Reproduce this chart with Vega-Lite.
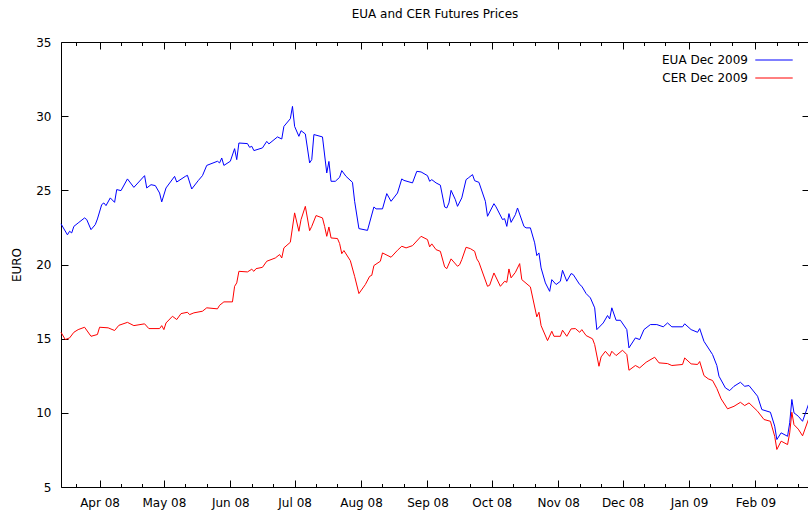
{
  "$schema": "https://vega.github.io/schema/vega-lite/v6.json",
  "width": 748,
  "height": 445,
  "autosize": {"type": "none"},
  "padding": {"left": 61, "top": 42, "right": 0, "bottom": 26},
  "background": "white",
  "config": {
    "font": "DejaVu Sans",
    "view": {"stroke": null},
    "axis": {"domainColor": "black", "tickColor": "black", "labelColor": "black", "titleColor": "black", "labelFontSize": 12, "titleFontSize": 12, "titleFontWeight": "normal", "grid": false, "domainWidth": 1, "tickWidth": 1, "labelFont": "DejaVu Sans", "titleFont": "DejaVu Sans"}
  },
  "title": {"text": "EUA and CER Futures Prices", "fontSize": 12, "fontWeight": "normal", "color": "black", "anchor": "middle", "baseline": "alphabetic", "offset": 6, "font": "DejaVu Sans"},
  "data": {"values": [
    {"date": "2008-03-14", "series": "EUA Dec 2009", "price": 22.74},
    {"date": "2008-03-17", "series": "EUA Dec 2009", "price": 22.0},
    {"date": "2008-03-18", "series": "EUA Dec 2009", "price": 22.24},
    {"date": "2008-03-19", "series": "EUA Dec 2009", "price": 22.13},
    {"date": "2008-03-20", "series": "EUA Dec 2009", "price": 22.57},
    {"date": "2008-03-22", "series": "EUA Dec 2009", "price": 22.8},
    {"date": "2008-03-25", "series": "EUA Dec 2009", "price": 23.14},
    {"date": "2008-03-26", "series": "EUA Dec 2009", "price": 23.03},
    {"date": "2008-03-28", "series": "EUA Dec 2009", "price": 22.35},
    {"date": "2008-03-30", "series": "EUA Dec 2009", "price": 22.69},
    {"date": "2008-03-31", "series": "EUA Dec 2009", "price": 23.07},
    {"date": "2008-04-02", "series": "EUA Dec 2009", "price": 24.04},
    {"date": "2008-04-03", "series": "EUA Dec 2009", "price": 24.15},
    {"date": "2008-04-04", "series": "EUA Dec 2009", "price": 23.97},
    {"date": "2008-04-06", "series": "EUA Dec 2009", "price": 24.49},
    {"date": "2008-04-08", "series": "EUA Dec 2009", "price": 24.19},
    {"date": "2008-04-09", "series": "EUA Dec 2009", "price": 25.05},
    {"date": "2008-04-11", "series": "EUA Dec 2009", "price": 24.98},
    {"date": "2008-04-14", "series": "EUA Dec 2009", "price": 25.77},
    {"date": "2008-04-17", "series": "EUA Dec 2009", "price": 25.2},
    {"date": "2008-04-22", "series": "EUA Dec 2009", "price": 25.99},
    {"date": "2008-04-23", "series": "EUA Dec 2009", "price": 25.16},
    {"date": "2008-04-25", "series": "EUA Dec 2009", "price": 25.38},
    {"date": "2008-04-27", "series": "EUA Dec 2009", "price": 25.32},
    {"date": "2008-04-29", "series": "EUA Dec 2009", "price": 24.82},
    {"date": "2008-04-30", "series": "EUA Dec 2009", "price": 24.22},
    {"date": "2008-05-02", "series": "EUA Dec 2009", "price": 25.16},
    {"date": "2008-05-06", "series": "EUA Dec 2009", "price": 25.94},
    {"date": "2008-05-07", "series": "EUA Dec 2009", "price": 25.56},
    {"date": "2008-05-11", "series": "EUA Dec 2009", "price": 25.94},
    {"date": "2008-05-12", "series": "EUA Dec 2009", "price": 26.01},
    {"date": "2008-05-14", "series": "EUA Dec 2009", "price": 25.09},
    {"date": "2008-05-17", "series": "EUA Dec 2009", "price": 25.65},
    {"date": "2008-05-19", "series": "EUA Dec 2009", "price": 25.99},
    {"date": "2008-05-21", "series": "EUA Dec 2009", "price": 26.68},
    {"date": "2008-05-26", "series": "EUA Dec 2009", "price": 26.96},
    {"date": "2008-05-27", "series": "EUA Dec 2009", "price": 26.85},
    {"date": "2008-05-28", "series": "EUA Dec 2009", "price": 27.18},
    {"date": "2008-05-29", "series": "EUA Dec 2009", "price": 26.68},
    {"date": "2008-06-01", "series": "EUA Dec 2009", "price": 26.96},
    {"date": "2008-06-03", "series": "EUA Dec 2009", "price": 27.81},
    {"date": "2008-06-04", "series": "EUA Dec 2009", "price": 27.07},
    {"date": "2008-06-05", "series": "EUA Dec 2009", "price": 28.19},
    {"date": "2008-06-09", "series": "EUA Dec 2009", "price": 28.15},
    {"date": "2008-06-10", "series": "EUA Dec 2009", "price": 27.9},
    {"date": "2008-06-11", "series": "EUA Dec 2009", "price": 27.97},
    {"date": "2008-06-12", "series": "EUA Dec 2009", "price": 27.68},
    {"date": "2008-06-16", "series": "EUA Dec 2009", "price": 27.86},
    {"date": "2008-06-18", "series": "EUA Dec 2009", "price": 28.3},
    {"date": "2008-06-19", "series": "EUA Dec 2009", "price": 28.13},
    {"date": "2008-06-23", "series": "EUA Dec 2009", "price": 28.6},
    {"date": "2008-06-25", "series": "EUA Dec 2009", "price": 28.46},
    {"date": "2008-06-26", "series": "EUA Dec 2009", "price": 29.31},
    {"date": "2008-06-29", "series": "EUA Dec 2009", "price": 29.83},
    {"date": "2008-06-30", "series": "EUA Dec 2009", "price": 30.66},
    {"date": "2008-07-01", "series": "EUA Dec 2009", "price": 29.31},
    {"date": "2008-07-03", "series": "EUA Dec 2009", "price": 28.64},
    {"date": "2008-07-04", "series": "EUA Dec 2009", "price": 29.02},
    {"date": "2008-07-06", "series": "EUA Dec 2009", "price": 28.8},
    {"date": "2008-07-08", "series": "EUA Dec 2009", "price": 26.85},
    {"date": "2008-07-09", "series": "EUA Dec 2009", "price": 27.07},
    {"date": "2008-07-10", "series": "EUA Dec 2009", "price": 28.76},
    {"date": "2008-07-14", "series": "EUA Dec 2009", "price": 28.6},
    {"date": "2008-07-16", "series": "EUA Dec 2009", "price": 26.17},
    {"date": "2008-07-17", "series": "EUA Dec 2009", "price": 26.95},
    {"date": "2008-07-18", "series": "EUA Dec 2009", "price": 25.61},
    {"date": "2008-07-20", "series": "EUA Dec 2009", "price": 25.61},
    {"date": "2008-07-22", "series": "EUA Dec 2009", "price": 25.88},
    {"date": "2008-07-23", "series": "EUA Dec 2009", "price": 26.33},
    {"date": "2008-07-25", "series": "EUA Dec 2009", "price": 25.94},
    {"date": "2008-07-28", "series": "EUA Dec 2009", "price": 25.54},
    {"date": "2008-07-29", "series": "EUA Dec 2009", "price": 24.26},
    {"date": "2008-07-31", "series": "EUA Dec 2009", "price": 22.42},
    {"date": "2008-08-04", "series": "EUA Dec 2009", "price": 22.3},
    {"date": "2008-08-07", "series": "EUA Dec 2009", "price": 23.88},
    {"date": "2008-08-08", "series": "EUA Dec 2009", "price": 23.75},
    {"date": "2008-08-11", "series": "EUA Dec 2009", "price": 23.75},
    {"date": "2008-08-13", "series": "EUA Dec 2009", "price": 24.78},
    {"date": "2008-08-15", "series": "EUA Dec 2009", "price": 24.26},
    {"date": "2008-08-18", "series": "EUA Dec 2009", "price": 24.82},
    {"date": "2008-08-20", "series": "EUA Dec 2009", "price": 25.77},
    {"date": "2008-08-21", "series": "EUA Dec 2009", "price": 25.67},
    {"date": "2008-08-25", "series": "EUA Dec 2009", "price": 25.5},
    {"date": "2008-08-27", "series": "EUA Dec 2009", "price": 26.28},
    {"date": "2008-08-29", "series": "EUA Dec 2009", "price": 26.24},
    {"date": "2008-09-01", "series": "EUA Dec 2009", "price": 25.99},
    {"date": "2008-09-02", "series": "EUA Dec 2009", "price": 25.61},
    {"date": "2008-09-03", "series": "EUA Dec 2009", "price": 25.72},
    {"date": "2008-09-05", "series": "EUA Dec 2009", "price": 25.5},
    {"date": "2008-09-07", "series": "EUA Dec 2009", "price": 25.35},
    {"date": "2008-09-09", "series": "EUA Dec 2009", "price": 23.88},
    {"date": "2008-09-10", "series": "EUA Dec 2009", "price": 23.81},
    {"date": "2008-09-11", "series": "EUA Dec 2009", "price": 24.15},
    {"date": "2008-09-12", "series": "EUA Dec 2009", "price": 25.0},
    {"date": "2008-09-14", "series": "EUA Dec 2009", "price": 24.37},
    {"date": "2008-09-15", "series": "EUA Dec 2009", "price": 23.92},
    {"date": "2008-09-17", "series": "EUA Dec 2009", "price": 24.49},
    {"date": "2008-09-19", "series": "EUA Dec 2009", "price": 25.72},
    {"date": "2008-09-20", "series": "EUA Dec 2009", "price": 25.83},
    {"date": "2008-09-22", "series": "EUA Dec 2009", "price": 26.06},
    {"date": "2008-09-23", "series": "EUA Dec 2009", "price": 25.65},
    {"date": "2008-09-25", "series": "EUA Dec 2009", "price": 25.54},
    {"date": "2008-09-28", "series": "EUA Dec 2009", "price": 24.26},
    {"date": "2008-09-29", "series": "EUA Dec 2009", "price": 23.25},
    {"date": "2008-10-02", "series": "EUA Dec 2009", "price": 24.1},
    {"date": "2008-10-03", "series": "EUA Dec 2009", "price": 23.88},
    {"date": "2008-10-06", "series": "EUA Dec 2009", "price": 23.03},
    {"date": "2008-10-07", "series": "EUA Dec 2009", "price": 23.09},
    {"date": "2008-10-08", "series": "EUA Dec 2009", "price": 22.57},
    {"date": "2008-10-09", "series": "EUA Dec 2009", "price": 23.43},
    {"date": "2008-10-10", "series": "EUA Dec 2009", "price": 22.84},
    {"date": "2008-10-12", "series": "EUA Dec 2009", "price": 23.36},
    {"date": "2008-10-13", "series": "EUA Dec 2009", "price": 23.81},
    {"date": "2008-10-16", "series": "EUA Dec 2009", "price": 22.57},
    {"date": "2008-10-17", "series": "EUA Dec 2009", "price": 22.47},
    {"date": "2008-10-19", "series": "EUA Dec 2009", "price": 22.47},
    {"date": "2008-10-21", "series": "EUA Dec 2009", "price": 21.46},
    {"date": "2008-10-22", "series": "EUA Dec 2009", "price": 20.6},
    {"date": "2008-10-23", "series": "EUA Dec 2009", "price": 20.78},
    {"date": "2008-10-24", "series": "EUA Dec 2009", "price": 19.77},
    {"date": "2008-10-26", "series": "EUA Dec 2009", "price": 18.76},
    {"date": "2008-10-28", "series": "EUA Dec 2009", "price": 18.19},
    {"date": "2008-10-29", "series": "EUA Dec 2009", "price": 18.98},
    {"date": "2008-10-31", "series": "EUA Dec 2009", "price": 18.65},
    {"date": "2008-11-02", "series": "EUA Dec 2009", "price": 18.87},
    {"date": "2008-11-03", "series": "EUA Dec 2009", "price": 19.61},
    {"date": "2008-11-05", "series": "EUA Dec 2009", "price": 18.87},
    {"date": "2008-11-07", "series": "EUA Dec 2009", "price": 19.39},
    {"date": "2008-11-08", "series": "EUA Dec 2009", "price": 19.32},
    {"date": "2008-11-11", "series": "EUA Dec 2009", "price": 18.65},
    {"date": "2008-11-12", "series": "EUA Dec 2009", "price": 18.53},
    {"date": "2008-11-14", "series": "EUA Dec 2009", "price": 18.04},
    {"date": "2008-11-16", "series": "EUA Dec 2009", "price": 17.75},
    {"date": "2008-11-18", "series": "EUA Dec 2009", "price": 17.08},
    {"date": "2008-11-19", "series": "EUA Dec 2009", "price": 15.61},
    {"date": "2008-11-22", "series": "EUA Dec 2009", "price": 16.06},
    {"date": "2008-11-24", "series": "EUA Dec 2009", "price": 16.56},
    {"date": "2008-11-25", "series": "EUA Dec 2009", "price": 16.33},
    {"date": "2008-11-26", "series": "EUA Dec 2009", "price": 17.08},
    {"date": "2008-11-28", "series": "EUA Dec 2009", "price": 16.24},
    {"date": "2008-11-30", "series": "EUA Dec 2009", "price": 16.24},
    {"date": "2008-12-03", "series": "EUA Dec 2009", "price": 15.61},
    {"date": "2008-12-04", "series": "EUA Dec 2009", "price": 14.38},
    {"date": "2008-12-07", "series": "EUA Dec 2009", "price": 15.05},
    {"date": "2008-12-09", "series": "EUA Dec 2009", "price": 14.94},
    {"date": "2008-12-11", "series": "EUA Dec 2009", "price": 15.61},
    {"date": "2008-12-14", "series": "EUA Dec 2009", "price": 15.95},
    {"date": "2008-12-17", "series": "EUA Dec 2009", "price": 15.95},
    {"date": "2008-12-20", "series": "EUA Dec 2009", "price": 15.8},
    {"date": "2008-12-22", "series": "EUA Dec 2009", "price": 16.06},
    {"date": "2008-12-24", "series": "EUA Dec 2009", "price": 15.8},
    {"date": "2008-12-29", "series": "EUA Dec 2009", "price": 15.8},
    {"date": "2008-12-30", "series": "EUA Dec 2009", "price": 16.0},
    {"date": "2009-01-02", "series": "EUA Dec 2009", "price": 15.61},
    {"date": "2009-01-05", "series": "EUA Dec 2009", "price": 15.43},
    {"date": "2009-01-06", "series": "EUA Dec 2009", "price": 15.68},
    {"date": "2009-01-08", "series": "EUA Dec 2009", "price": 14.82},
    {"date": "2009-01-12", "series": "EUA Dec 2009", "price": 13.93},
    {"date": "2009-01-14", "series": "EUA Dec 2009", "price": 13.19},
    {"date": "2009-01-15", "series": "EUA Dec 2009", "price": 12.47},
    {"date": "2009-01-18", "series": "EUA Dec 2009", "price": 11.68},
    {"date": "2009-01-20", "series": "EUA Dec 2009", "price": 11.5},
    {"date": "2009-01-22", "series": "EUA Dec 2009", "price": 11.79},
    {"date": "2009-01-25", "series": "EUA Dec 2009", "price": 12.06},
    {"date": "2009-01-27", "series": "EUA Dec 2009", "price": 11.79},
    {"date": "2009-01-29", "series": "EUA Dec 2009", "price": 11.84},
    {"date": "2009-02-02", "series": "EUA Dec 2009", "price": 11.12},
    {"date": "2009-02-04", "series": "EUA Dec 2009", "price": 10.22},
    {"date": "2009-02-08", "series": "EUA Dec 2009", "price": 10.04},
    {"date": "2009-02-10", "series": "EUA Dec 2009", "price": 9.1},
    {"date": "2009-02-11", "series": "EUA Dec 2009", "price": 8.2},
    {"date": "2009-02-13", "series": "EUA Dec 2009", "price": 8.65},
    {"date": "2009-02-16", "series": "EUA Dec 2009", "price": 8.42},
    {"date": "2009-02-17", "series": "EUA Dec 2009", "price": 9.33},
    {"date": "2009-02-18", "series": "EUA Dec 2009", "price": 10.9},
    {"date": "2009-02-19", "series": "EUA Dec 2009", "price": 10.0},
    {"date": "2009-02-21", "series": "EUA Dec 2009", "price": 9.77},
    {"date": "2009-02-23", "series": "EUA Dec 2009", "price": 9.43},
    {"date": "2009-02-26", "series": "EUA Dec 2009", "price": 10.67},
    {"date": "2008-03-14", "series": "CER Dec 2009", "price": 15.43},
    {"date": "2008-03-16", "series": "CER Dec 2009", "price": 14.94},
    {"date": "2008-03-18", "series": "CER Dec 2009", "price": 15.05},
    {"date": "2008-03-20", "series": "CER Dec 2009", "price": 15.43},
    {"date": "2008-03-22", "series": "CER Dec 2009", "price": 15.61},
    {"date": "2008-03-25", "series": "CER Dec 2009", "price": 15.77},
    {"date": "2008-03-28", "series": "CER Dec 2009", "price": 15.16},
    {"date": "2008-03-31", "series": "CER Dec 2009", "price": 15.28},
    {"date": "2008-04-01", "series": "CER Dec 2009", "price": 15.77},
    {"date": "2008-04-05", "series": "CER Dec 2009", "price": 15.73},
    {"date": "2008-04-08", "series": "CER Dec 2009", "price": 15.55},
    {"date": "2008-04-10", "series": "CER Dec 2009", "price": 15.9},
    {"date": "2008-04-14", "series": "CER Dec 2009", "price": 16.1},
    {"date": "2008-04-17", "series": "CER Dec 2009", "price": 15.88},
    {"date": "2008-04-22", "series": "CER Dec 2009", "price": 16.0},
    {"date": "2008-04-24", "series": "CER Dec 2009", "price": 15.68},
    {"date": "2008-04-29", "series": "CER Dec 2009", "price": 15.68},
    {"date": "2008-04-30", "series": "CER Dec 2009", "price": 15.88},
    {"date": "2008-05-01", "series": "CER Dec 2009", "price": 15.61},
    {"date": "2008-05-02", "series": "CER Dec 2009", "price": 16.06},
    {"date": "2008-05-05", "series": "CER Dec 2009", "price": 16.51},
    {"date": "2008-05-07", "series": "CER Dec 2009", "price": 16.29},
    {"date": "2008-05-09", "series": "CER Dec 2009", "price": 16.69},
    {"date": "2008-05-12", "series": "CER Dec 2009", "price": 16.78},
    {"date": "2008-05-13", "series": "CER Dec 2009", "price": 16.62},
    {"date": "2008-05-15", "series": "CER Dec 2009", "price": 16.74},
    {"date": "2008-05-19", "series": "CER Dec 2009", "price": 16.85},
    {"date": "2008-05-21", "series": "CER Dec 2009", "price": 17.08},
    {"date": "2008-05-26", "series": "CER Dec 2009", "price": 17.01},
    {"date": "2008-05-27", "series": "CER Dec 2009", "price": 17.25},
    {"date": "2008-05-29", "series": "CER Dec 2009", "price": 17.48},
    {"date": "2008-06-02", "series": "CER Dec 2009", "price": 17.48},
    {"date": "2008-06-03", "series": "CER Dec 2009", "price": 18.53},
    {"date": "2008-06-04", "series": "CER Dec 2009", "price": 18.76},
    {"date": "2008-06-05", "series": "CER Dec 2009", "price": 19.54},
    {"date": "2008-06-09", "series": "CER Dec 2009", "price": 19.5},
    {"date": "2008-06-11", "series": "CER Dec 2009", "price": 19.68},
    {"date": "2008-06-12", "series": "CER Dec 2009", "price": 19.54},
    {"date": "2008-06-13", "series": "CER Dec 2009", "price": 19.72},
    {"date": "2008-06-16", "series": "CER Dec 2009", "price": 19.81},
    {"date": "2008-06-18", "series": "CER Dec 2009", "price": 20.22},
    {"date": "2008-06-22", "series": "CER Dec 2009", "price": 20.44},
    {"date": "2008-06-24", "series": "CER Dec 2009", "price": 20.67},
    {"date": "2008-06-25", "series": "CER Dec 2009", "price": 20.44},
    {"date": "2008-06-26", "series": "CER Dec 2009", "price": 21.12},
    {"date": "2008-06-29", "series": "CER Dec 2009", "price": 21.5},
    {"date": "2008-07-01", "series": "CER Dec 2009", "price": 23.48},
    {"date": "2008-07-03", "series": "CER Dec 2009", "price": 22.24},
    {"date": "2008-07-04", "series": "CER Dec 2009", "price": 23.03},
    {"date": "2008-07-06", "series": "CER Dec 2009", "price": 23.92},
    {"date": "2008-07-08", "series": "CER Dec 2009", "price": 22.28},
    {"date": "2008-07-09", "series": "CER Dec 2009", "price": 22.57},
    {"date": "2008-07-11", "series": "CER Dec 2009", "price": 23.3},
    {"date": "2008-07-14", "series": "CER Dec 2009", "price": 23.14},
    {"date": "2008-07-15", "series": "CER Dec 2009", "price": 22.57},
    {"date": "2008-07-16", "series": "CER Dec 2009", "price": 21.9},
    {"date": "2008-07-17", "series": "CER Dec 2009", "price": 22.53},
    {"date": "2008-07-18", "series": "CER Dec 2009", "price": 21.79},
    {"date": "2008-07-21", "series": "CER Dec 2009", "price": 21.75},
    {"date": "2008-07-22", "series": "CER Dec 2009", "price": 21.41},
    {"date": "2008-07-23", "series": "CER Dec 2009", "price": 20.73},
    {"date": "2008-07-24", "series": "CER Dec 2009", "price": 20.94},
    {"date": "2008-07-27", "series": "CER Dec 2009", "price": 20.26},
    {"date": "2008-07-29", "series": "CER Dec 2009", "price": 19.2},
    {"date": "2008-07-31", "series": "CER Dec 2009", "price": 18.04},
    {"date": "2008-08-03", "series": "CER Dec 2009", "price": 18.65},
    {"date": "2008-08-05", "series": "CER Dec 2009", "price": 19.2},
    {"date": "2008-08-06", "series": "CER Dec 2009", "price": 19.27},
    {"date": "2008-08-07", "series": "CER Dec 2009", "price": 19.93},
    {"date": "2008-08-10", "series": "CER Dec 2009", "price": 20.22},
    {"date": "2008-08-11", "series": "CER Dec 2009", "price": 20.78},
    {"date": "2008-08-15", "series": "CER Dec 2009", "price": 20.49},
    {"date": "2008-08-18", "series": "CER Dec 2009", "price": 20.96},
    {"date": "2008-08-20", "series": "CER Dec 2009", "price": 21.23},
    {"date": "2008-08-22", "series": "CER Dec 2009", "price": 21.12},
    {"date": "2008-08-25", "series": "CER Dec 2009", "price": 21.27},
    {"date": "2008-08-29", "series": "CER Dec 2009", "price": 21.9},
    {"date": "2008-09-01", "series": "CER Dec 2009", "price": 21.68},
    {"date": "2008-09-02", "series": "CER Dec 2009", "price": 21.19},
    {"date": "2008-09-03", "series": "CER Dec 2009", "price": 21.39},
    {"date": "2008-09-05", "series": "CER Dec 2009", "price": 21.0},
    {"date": "2008-09-07", "series": "CER Dec 2009", "price": 20.89},
    {"date": "2008-09-09", "series": "CER Dec 2009", "price": 19.84},
    {"date": "2008-09-10", "series": "CER Dec 2009", "price": 19.72},
    {"date": "2008-09-12", "series": "CER Dec 2009", "price": 20.38},
    {"date": "2008-09-15", "series": "CER Dec 2009", "price": 19.88},
    {"date": "2008-09-16", "series": "CER Dec 2009", "price": 19.99},
    {"date": "2008-09-17", "series": "CER Dec 2009", "price": 20.33},
    {"date": "2008-09-19", "series": "CER Dec 2009", "price": 21.16},
    {"date": "2008-09-21", "series": "CER Dec 2009", "price": 21.07},
    {"date": "2008-09-23", "series": "CER Dec 2009", "price": 20.89},
    {"date": "2008-09-24", "series": "CER Dec 2009", "price": 20.38},
    {"date": "2008-09-25", "series": "CER Dec 2009", "price": 20.15},
    {"date": "2008-09-29", "series": "CER Dec 2009", "price": 18.53},
    {"date": "2008-09-30", "series": "CER Dec 2009", "price": 18.6},
    {"date": "2008-10-02", "series": "CER Dec 2009", "price": 19.43},
    {"date": "2008-10-05", "series": "CER Dec 2009", "price": 18.53},
    {"date": "2008-10-07", "series": "CER Dec 2009", "price": 18.87},
    {"date": "2008-10-08", "series": "CER Dec 2009", "price": 18.8},
    {"date": "2008-10-09", "series": "CER Dec 2009", "price": 19.7},
    {"date": "2008-10-10", "series": "CER Dec 2009", "price": 19.1},
    {"date": "2008-10-12", "series": "CER Dec 2009", "price": 19.47},
    {"date": "2008-10-14", "series": "CER Dec 2009", "price": 20.06},
    {"date": "2008-10-15", "series": "CER Dec 2009", "price": 18.98},
    {"date": "2008-10-19", "series": "CER Dec 2009", "price": 18.49},
    {"date": "2008-10-22", "series": "CER Dec 2009", "price": 16.47},
    {"date": "2008-10-23", "series": "CER Dec 2009", "price": 16.78},
    {"date": "2008-10-24", "series": "CER Dec 2009", "price": 15.88},
    {"date": "2008-10-27", "series": "CER Dec 2009", "price": 14.87},
    {"date": "2008-10-29", "series": "CER Dec 2009", "price": 15.5},
    {"date": "2008-10-30", "series": "CER Dec 2009", "price": 15.16},
    {"date": "2008-11-02", "series": "CER Dec 2009", "price": 15.16},
    {"date": "2008-11-03", "series": "CER Dec 2009", "price": 15.57},
    {"date": "2008-11-05", "series": "CER Dec 2009", "price": 15.16},
    {"date": "2008-11-07", "series": "CER Dec 2009", "price": 15.66},
    {"date": "2008-11-09", "series": "CER Dec 2009", "price": 15.68},
    {"date": "2008-11-11", "series": "CER Dec 2009", "price": 15.43},
    {"date": "2008-11-12", "series": "CER Dec 2009", "price": 15.61},
    {"date": "2008-11-14", "series": "CER Dec 2009", "price": 15.21},
    {"date": "2008-11-17", "series": "CER Dec 2009", "price": 14.99},
    {"date": "2008-11-18", "series": "CER Dec 2009", "price": 14.6},
    {"date": "2008-11-20", "series": "CER Dec 2009", "price": 13.14},
    {"date": "2008-11-21", "series": "CER Dec 2009", "price": 13.77},
    {"date": "2008-11-23", "series": "CER Dec 2009", "price": 14.15},
    {"date": "2008-11-25", "series": "CER Dec 2009", "price": 13.81},
    {"date": "2008-11-26", "series": "CER Dec 2009", "price": 14.15},
    {"date": "2008-11-28", "series": "CER Dec 2009", "price": 13.86},
    {"date": "2008-12-01", "series": "CER Dec 2009", "price": 14.22},
    {"date": "2008-12-03", "series": "CER Dec 2009", "price": 13.93},
    {"date": "2008-12-04", "series": "CER Dec 2009", "price": 12.87},
    {"date": "2008-12-07", "series": "CER Dec 2009", "price": 13.19},
    {"date": "2008-12-09", "series": "CER Dec 2009", "price": 13.03},
    {"date": "2008-12-12", "series": "CER Dec 2009", "price": 13.41},
    {"date": "2008-12-16", "series": "CER Dec 2009", "price": 13.75},
    {"date": "2008-12-18", "series": "CER Dec 2009", "price": 13.37},
    {"date": "2008-12-22", "series": "CER Dec 2009", "price": 13.32},
    {"date": "2008-12-24", "series": "CER Dec 2009", "price": 13.19},
    {"date": "2008-12-29", "series": "CER Dec 2009", "price": 13.26},
    {"date": "2008-12-30", "series": "CER Dec 2009", "price": 13.7},
    {"date": "2009-01-02", "series": "CER Dec 2009", "price": 13.3},
    {"date": "2009-01-05", "series": "CER Dec 2009", "price": 13.26},
    {"date": "2009-01-06", "series": "CER Dec 2009", "price": 13.46},
    {"date": "2009-01-08", "series": "CER Dec 2009", "price": 12.51},
    {"date": "2009-01-10", "series": "CER Dec 2009", "price": 12.29},
    {"date": "2009-01-12", "series": "CER Dec 2009", "price": 12.18},
    {"date": "2009-01-14", "series": "CER Dec 2009", "price": 11.64},
    {"date": "2009-01-16", "series": "CER Dec 2009", "price": 10.94},
    {"date": "2009-01-19", "series": "CER Dec 2009", "price": 10.27},
    {"date": "2009-01-22", "series": "CER Dec 2009", "price": 10.44},
    {"date": "2009-01-25", "series": "CER Dec 2009", "price": 10.71},
    {"date": "2009-01-27", "series": "CER Dec 2009", "price": 10.49},
    {"date": "2009-01-29", "series": "CER Dec 2009", "price": 10.67},
    {"date": "2009-02-02", "series": "CER Dec 2009", "price": 10.11},
    {"date": "2009-02-05", "series": "CER Dec 2009", "price": 9.55},
    {"date": "2009-02-08", "series": "CER Dec 2009", "price": 9.43},
    {"date": "2009-02-10", "series": "CER Dec 2009", "price": 8.42},
    {"date": "2009-02-11", "series": "CER Dec 2009", "price": 7.53},
    {"date": "2009-02-13", "series": "CER Dec 2009", "price": 8.09},
    {"date": "2009-02-16", "series": "CER Dec 2009", "price": 7.86},
    {"date": "2009-02-17", "series": "CER Dec 2009", "price": 8.65},
    {"date": "2009-02-18", "series": "CER Dec 2009", "price": 10.04},
    {"date": "2009-02-19", "series": "CER Dec 2009", "price": 9.2},
    {"date": "2009-02-21", "series": "CER Dec 2009", "price": 8.9},
    {"date": "2009-02-23", "series": "CER Dec 2009", "price": 8.45},
    {"date": "2009-02-26", "series": "CER Dec 2009", "price": 9.66}
  ]},
  "layer": [
    {
      "mark": {"type": "line", "strokeWidth": 1, "interpolate": "linear"},
      "encoding": {
        "x": {"field": "date", "type": "temporal", "scale": {"type": "utc", "nice": false},
          "axis": {"orient": "bottom", "title": null, "labelFlush": false, "labelOverlap": false, "labelPadding": 17, "labelAngle": 0,
            "values": [
              {"year": 2008, "month": 3, "date": 21, "utc": true},
              {"year": 2008, "month": 4, "date": 1, "utc": true}, {"year": 2008, "month": 4, "date": 11, "utc": true}, {"year": 2008, "month": 4, "date": 21, "utc": true},
              {"year": 2008, "month": 5, "date": 1, "utc": true}, {"year": 2008, "month": 5, "date": 11, "utc": true}, {"year": 2008, "month": 5, "date": 21, "utc": true},
              {"year": 2008, "month": 6, "date": 1, "utc": true}, {"year": 2008, "month": 6, "date": 11, "utc": true}, {"year": 2008, "month": 6, "date": 21, "utc": true},
              {"year": 2008, "month": 7, "date": 1, "utc": true}, {"year": 2008, "month": 7, "date": 11, "utc": true}, {"year": 2008, "month": 7, "date": 21, "utc": true},
              {"year": 2008, "month": 8, "date": 1, "utc": true}, {"year": 2008, "month": 8, "date": 11, "utc": true}, {"year": 2008, "month": 8, "date": 21, "utc": true},
              {"year": 2008, "month": 9, "date": 1, "utc": true}, {"year": 2008, "month": 9, "date": 11, "utc": true}, {"year": 2008, "month": 9, "date": 21, "utc": true},
              {"year": 2008, "month": 10, "date": 1, "utc": true}, {"year": 2008, "month": 10, "date": 11, "utc": true}, {"year": 2008, "month": 10, "date": 21, "utc": true},
              {"year": 2008, "month": 11, "date": 1, "utc": true}, {"year": 2008, "month": 11, "date": 11, "utc": true}, {"year": 2008, "month": 11, "date": 21, "utc": true},
              {"year": 2008, "month": 12, "date": 1, "utc": true}, {"year": 2008, "month": 12, "date": 11, "utc": true}, {"year": 2008, "month": 12, "date": 21, "utc": true},
              {"year": 2009, "month": 1, "date": 1, "utc": true}, {"year": 2009, "month": 1, "date": 11, "utc": true}, {"year": 2009, "month": 1, "date": 21, "utc": true},
              {"year": 2009, "month": 2, "date": 1, "utc": true}, {"year": 2009, "month": 2, "date": 11, "utc": true}, {"year": 2009, "month": 2, "date": 21, "utc": true}
            ],
            "labelExpr": "utcdate(datum.value) == 1 ? utcFormat(datum.value, '%b %y') : ''",
            "tickSize": {"condition": {"test": "utcdate(datum.value) == 1", "value": -7}, "value": -3.5}
          }
        },
        "y": {"field": "price", "type": "quantitative", "scale": {"domain": [5, 35], "nice": false, "zero": false},
          "axis": {"orient": "left", "title": "EURO", "values": [5, 10, 15, 20, 25, 30, 35], "tickSize": -7, "labelPadding": 17, "titlePadding": 12}
        },
        "color": {"field": "series", "type": "nominal",
          "scale": {"domain": ["EUA Dec 2009", "CER Dec 2009"], "range": ["#0000ff", "#ff0000"]},
          "legend": {"orient": "none", "legendX": 707, "legendY": 12, "title": null, "symbolType": "M-10,0H10", "symbolSize": 14, "symbolStrokeWidth": 1, "labelAlign": "right", "labelOffset": -32, "labelFontSize": 12, "labelColor": "black", "labelFont": "DejaVu Sans", "rowPadding": 6, "padding": 0}
        }
      }
    },
    {
      "mark": {"type": "line", "opacity": 0},
      "encoding": {
        "x": {"field": "date", "type": "temporal",
          "axis": {"orient": "top", "title": null, "labels": false,
            "values": [
              {"year": 2008, "month": 3, "date": 21, "utc": true},
              {"year": 2008, "month": 4, "date": 1, "utc": true}, {"year": 2008, "month": 4, "date": 11, "utc": true}, {"year": 2008, "month": 4, "date": 21, "utc": true},
              {"year": 2008, "month": 5, "date": 1, "utc": true}, {"year": 2008, "month": 5, "date": 11, "utc": true}, {"year": 2008, "month": 5, "date": 21, "utc": true},
              {"year": 2008, "month": 6, "date": 1, "utc": true}, {"year": 2008, "month": 6, "date": 11, "utc": true}, {"year": 2008, "month": 6, "date": 21, "utc": true},
              {"year": 2008, "month": 7, "date": 1, "utc": true}, {"year": 2008, "month": 7, "date": 11, "utc": true}, {"year": 2008, "month": 7, "date": 21, "utc": true},
              {"year": 2008, "month": 8, "date": 1, "utc": true}, {"year": 2008, "month": 8, "date": 11, "utc": true}, {"year": 2008, "month": 8, "date": 21, "utc": true},
              {"year": 2008, "month": 9, "date": 1, "utc": true}, {"year": 2008, "month": 9, "date": 11, "utc": true}, {"year": 2008, "month": 9, "date": 21, "utc": true},
              {"year": 2008, "month": 10, "date": 1, "utc": true}, {"year": 2008, "month": 10, "date": 11, "utc": true}, {"year": 2008, "month": 10, "date": 21, "utc": true},
              {"year": 2008, "month": 11, "date": 1, "utc": true}, {"year": 2008, "month": 11, "date": 11, "utc": true}, {"year": 2008, "month": 11, "date": 21, "utc": true},
              {"year": 2008, "month": 12, "date": 1, "utc": true}, {"year": 2008, "month": 12, "date": 11, "utc": true}, {"year": 2008, "month": 12, "date": 21, "utc": true},
              {"year": 2009, "month": 1, "date": 1, "utc": true}, {"year": 2009, "month": 1, "date": 11, "utc": true}, {"year": 2009, "month": 1, "date": 21, "utc": true},
              {"year": 2009, "month": 2, "date": 1, "utc": true}, {"year": 2009, "month": 2, "date": 11, "utc": true}, {"year": 2009, "month": 2, "date": 21, "utc": true}
            ],
            "tickSize": {"condition": {"test": "utcdate(datum.value) == 1", "value": -7}, "value": -3.5}
          }
        },
        "y": {"field": "price", "type": "quantitative",
          "axis": {"orient": "right", "title": null, "labels": false, "values": [5, 10, 15, 20, 25, 30, 35], "tickSize": -7}
        }
      }
    }
  ],
  "resolve": {"axis": {"x": "independent", "y": "independent"}}
}
